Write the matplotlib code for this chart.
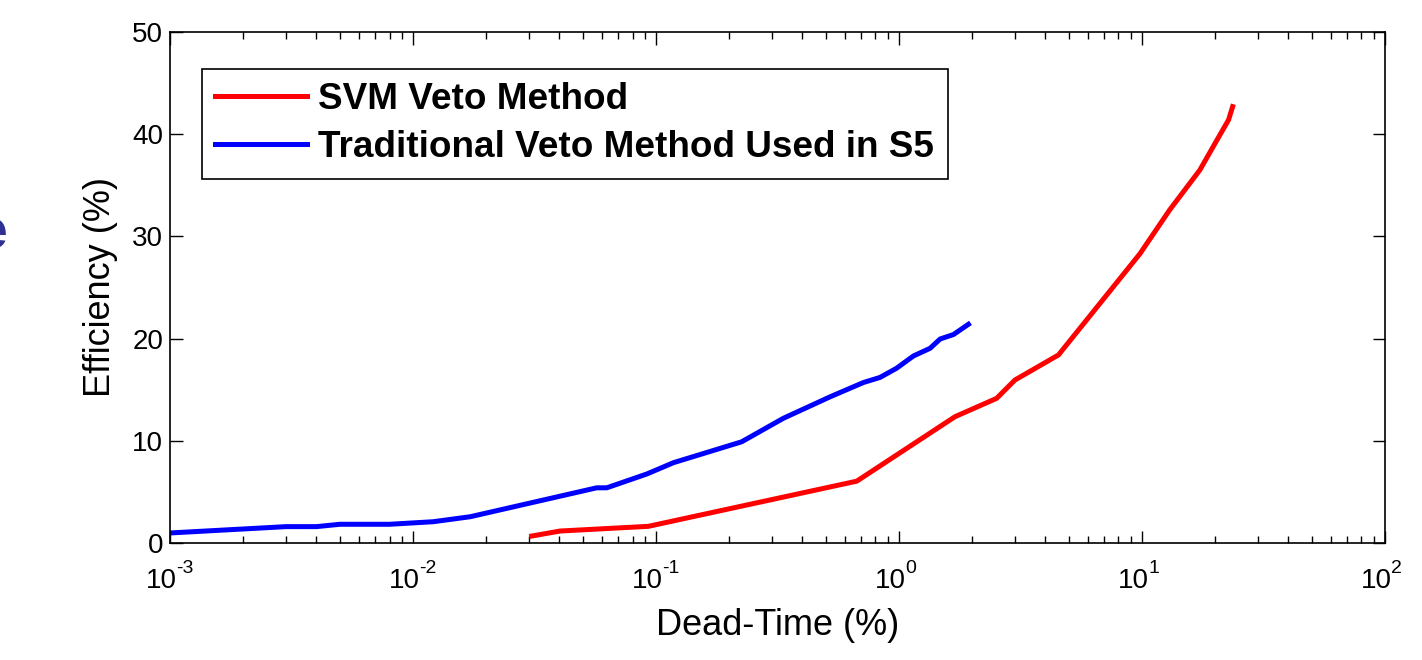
import math
import matplotlib
matplotlib.use("Agg")
import matplotlib.pyplot as plt
from matplotlib.ticker import LogLocator, NullFormatter

plt.rcParams['font.family'] = ['Liberation Sans', 'DejaVu Sans']

# Traditional veto (S5) curve: dead-time (%) vs efficiency (%)
trad_deadtime = [0.001, 0.003, 0.004, 0.005, 0.008, 0.0121, 0.0172, 0.057, 0.0627,
                 0.0916, 0.118, 0.225, 0.334, 0.52, 0.713, 0.835, 0.977, 1.146,
                 1.342, 1.476, 1.675, 1.93]
trad_eff = [0.98, 1.6, 1.6, 1.83, 1.83, 2.08, 2.57, 5.4, 5.4,
            6.75, 7.86, 9.9, 12.2, 14.3, 15.7, 16.2, 17.1, 18.3,
            19.05, 19.96, 20.4, 21.4]

# SVM veto curve
svm_deadtime = [0.0308, 0.0403, 0.093, 0.67, 1.70, 2.52, 3.0, 4.53, 9.8, 13.0,
                17.3, 19.97, 22.7, 23.6]
svm_eff = [0.68, 1.17, 1.63, 6.05, 12.36, 14.15, 15.95, 18.4, 28.3, 32.6,
           36.5, 39.1, 41.4, 42.7]

x_decades = [1e-3, 1e-2, 1e-1, 1e0, 1e1, 1e2]

fig = plt.figure(figsize=(14.22, 6.6), dpi=100)
ax = fig.add_axes([0.1196, 0.1773, 0.8544, 0.7742])

ax.plot(svm_deadtime, svm_eff, color='#ff0000', lw=3.6, label='SVM Veto Method')
ax.plot(trad_deadtime, trad_eff, color='#0000ff', lw=3.6,
        label='Traditional Veto Method Used in S5')

ax.set_xscale('log')
ax.set_xlim(1e-3, 1e2)
ax.set_ylim(0, 50)
ax.set_yticks([0, 10, 20, 30, 40, 50])

ax.set_xticks(x_decades)
ax.xaxis.set_minor_locator(LogLocator(base=10, subs=range(2, 10), numticks=20))
ax.xaxis.set_minor_formatter(NullFormatter())
ax.xaxis.set_major_formatter(NullFormatter())

# MATLAB-style 10^n labels with a plain hyphen in the exponent
for v in x_decades:
    e = round(math.log10(v))
    ax.annotate('10', xy=(v, 0), xycoords=('data', 'axes fraction'),
                xytext=(-6.5, -18), textcoords='offset points',
                ha='center', va='top', fontsize=20)
    ax.annotate('%d' % e, xy=(v, 0), xycoords=('data', 'axes fraction'),
                xytext=(4.5, -12), textcoords='offset points',
                ha='left', va='top', fontsize=14)

ax.tick_params(which='both', direction='in', top=True, right=True, labelsize=20)
ax.tick_params(which='major', length=9, width=1)
ax.tick_params(which='minor', length=5, width=1)
ax.tick_params(axis='y', pad=5)
for s in ax.spines.values():
    s.set_linewidth(1.2)

ax.set_xlabel('Dead-Time (%)', fontsize=26)
ax.xaxis.set_label_coords(0.5, -0.128)
ax.set_ylabel('Efficiency (%)', fontsize=26, labelpad=10)

leg = ax.legend(loc='upper left', bbox_to_anchor=(0.026, 0.928), fancybox=False,
                edgecolor='black', framealpha=1, handlelength=2.5,
                prop={'weight': 'bold', 'size': 26.6},
                borderpad=0.36, labelspacing=0.36, handletextpad=0.3,
                borderaxespad=0)
leg.get_frame().set_linewidth(1.2)

# partial slide glyph at left edge
fig.text(-0.016, 0.645, 'e', color='#2e3192', fontsize=40, fontweight='bold',
         va='center', ha='left')

fig.savefig('out.png', dpi=100)
